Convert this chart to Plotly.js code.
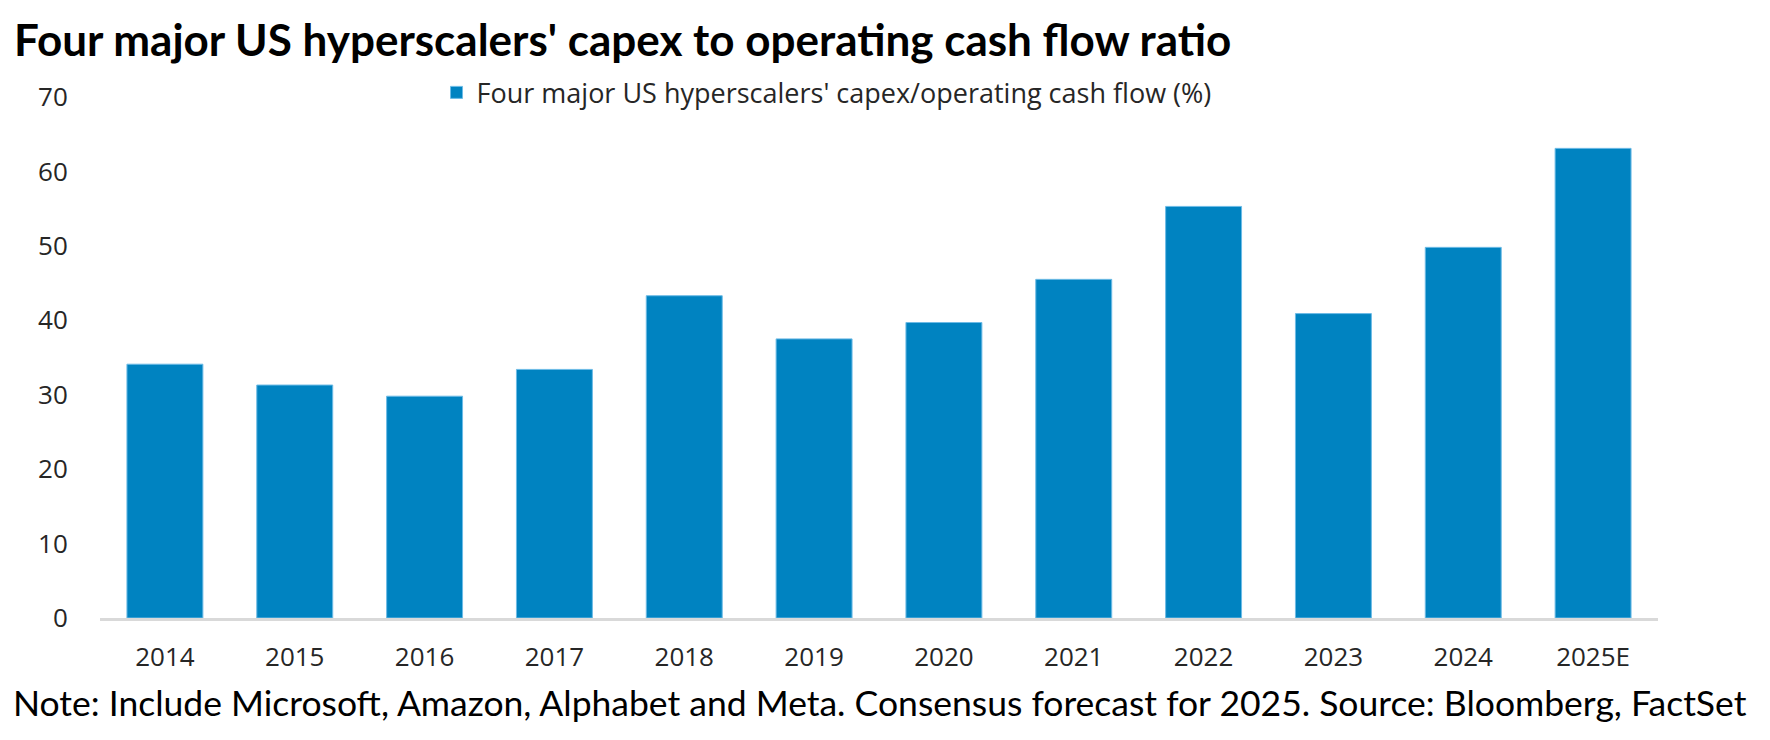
<!DOCTYPE html>
<html>
<head>
<meta charset="utf-8">
<script src="https://cdn.plot.ly/plotly-3.0.1.min.js"></script>
<style>html,body{margin:0;padding:0;background:#fff;}#chart{width:1770px;height:740px;}</style>
</head>
<body>
<div id="chart"></div>
<script>
const categories = ['2014','2015','2016','2017','2018','2019','2020','2021','2022','2023','2024','2025E'];
const capexRatio = [34.1, 31.3, 29.8, 33.4, 43.3, 37.5, 39.7, 45.5, 55.3, 40.9, 49.8, 63.1];
const yTicks = [0, 10, 20, 30, 40, 50, 60, 70];
const seriesName = "Four major US hyperscalers' capex/operating cash flow (%)";
const titleText = "Four major US hyperscalers' capex to operating cash flow ratio";
const noteText = "Note: Include Microsoft, Amazon, Alphabet and Meta. Consensus forecast for 2025. Source: Bloomberg, FactSet";

const tickFont = {family: 'Open Sans, Noto Sans, sans-serif', size: 26, color: '#262626'};
const legendFont = {family: 'Open Sans, Noto Sans, sans-serif', size: 27, color: '#262626'};

const data = [{
  type: 'bar',
  x: categories,
  y: capexRatio,
  name: seriesName,
  marker: {color: '#0083C1', line: {color: '#6DBBE6', width: 1}},
  hoverinfo: 'x+y'
}];

const layout = {
  width: 1770,
  height: 740,
  paper_bgcolor: '#ffffff',
  plot_bgcolor: '#ffffff',
  margin: {l: 100, r: 112, t: 97, b: 122},
  bargap: 0.415,
  showlegend: true,
  title: {
    text: '<b>' + titleText + '</b>',
    font: {family: 'Lato, Liberation Sans, sans-serif', size: 44, color: '#000000'},
    x: 14 / 1770, xanchor: 'left', xref: 'container',
    y: 1 - 41 / 740, yanchor: 'middle', yref: 'container'
  },
  legend: {
    orientation: 'h',
    x: 0.216, xanchor: 'left',
    y: 1.008, yanchor: 'middle',
    font: legendFont,
    bgcolor: 'rgba(0,0,0,0)'
  },
  xaxis: {
    type: 'category',
    range: [-0.5, 11.5],
    showline: true,
    linecolor: '#D9D9D9',
    linewidth: 3,
    showgrid: false,
    zeroline: false,
    ticks: 'outside',
    ticklen: 14,
    tickcolor: 'rgba(0,0,0,0)',
    tickfont: tickFont
  },
  yaxis: {
    range: [0, 70],
    tickvals: yTicks,
    showline: false,
    showgrid: false,
    zeroline: false,
    ticks: 'outside',
    ticklen: 26,
    tickcolor: 'rgba(0,0,0,0)',
    tickfont: tickFont
  },
  annotations: [{
    text: noteText,
    xref: 'paper', yref: 'paper',
    x: (11 - 100) / 1558, xanchor: 'left',
    y: (618 - 702) / 521, yanchor: 'middle',
    showarrow: false,
    font: {family: 'Lato, Liberation Sans, sans-serif', size: 35.5, color: '#000000'}
  }]
};

Plotly.newPlot('chart', data, layout, {displayModeBar: false, responsive: false});
</script>
</body>
</html>
